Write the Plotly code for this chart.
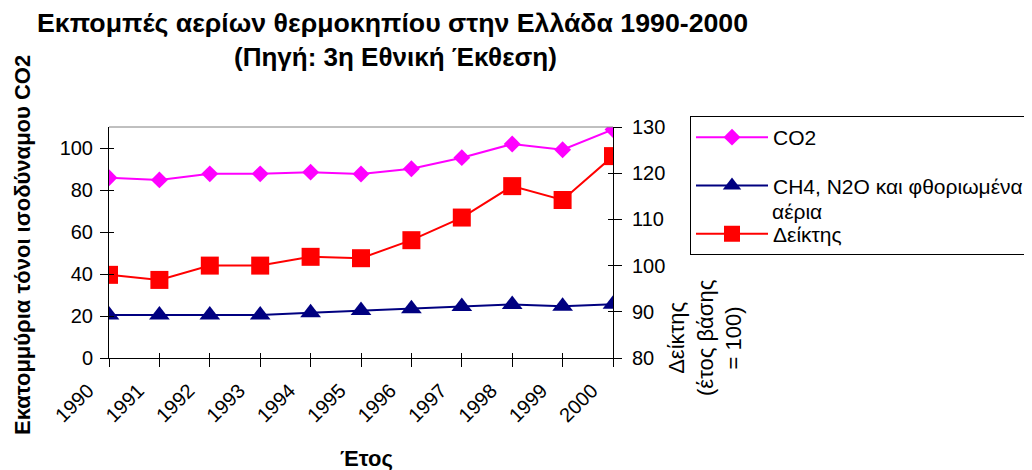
import plotly.graph_objects as go

years = ["1990", "1991", "1992", "1993", "1994", "1995", "1996", "1997", "1998", "1999", "2000"]
co2 = [85.8, 84.8, 87.7, 87.7, 88.5, 87.6, 90.1, 95.4, 101.9, 99.2, 108.8]
ch4_n2o_f = [20.5, 20.5, 20.5, 20.5, 21.6, 22.6, 23.4, 24.5, 25.5, 24.7, 25.6]
index_vals = [98.0, 96.9, 100.0, 100.0, 101.9, 101.6, 105.5, 110.4, 117.2, 114.2, 123.7]

FONT = "Liberation Sans, Arial, sans-serif"

fig = go.Figure()
fig.add_trace(go.Scatter(x=years, y=co2, name="CO2", mode="lines+markers", legendgroup="a",
                         line=dict(color="#FF00FF", width=2),
                         marker=dict(symbol="diamond", size=13, color="#FF00FF")))
fig.add_trace(go.Scatter(x=years, y=ch4_n2o_f, name="CH4, N2O και φθοριωμένα",
                         mode="lines+markers", legendgroup="b",
                         line=dict(color="#000080", width=2),
                         marker=dict(symbol="triangle-up", size=18, color="#000080")))
fig.add_trace(go.Scatter(x=years, y=index_vals, name="Δείκτης", mode="lines+markers",
                         yaxis="y2", legendgroup="c",
                         line=dict(color="#FF0000", width=2),
                         marker=dict(symbol="square", size=18, color="#FF0000")))

axis_common = dict(showgrid=False, zeroline=False, linecolor="black", linewidth=1,
                   tickcolor="black", ticklen=8, tickfont=dict(size=20, color="black", family=FONT))
inner_ticks = dict(ticks="inside", showticklabels=False, showline=False, showgrid=False,
                   zeroline=False, ticklen=5, tickcolor="black")

fig.update_layout(
    width=1032, height=470,
    margin=dict(l=101, r=427, t=119, b=120, autoexpand=False),
    paper_bgcolor="white", plot_bgcolor="white",
    font=dict(family=FONT, color="black"),
    showlegend=True,
    legend=dict(x=(690 - 109) / 504, y=(358 - 116) / 231, xanchor="left", yanchor="top",
                bordercolor="black", borderwidth=1, bgcolor="white",
                traceorder="grouped", tracegroupgap=18,
                font=dict(size=21, family=FONT), itemwidth=72),
    xaxis=dict(type="category", range=[0, 10], ticks="outside", tickangle=-45,
               ticklabelshift=-21, ticklabelstandoff=4, showline=True, **axis_common),
    yaxis=dict(range=[0, 110], dtick=20, ticks="outside", ticklabelstandoff=3,
               showline=True, **axis_common),
    yaxis2=dict(range=[80, 130], dtick=10, ticks="outside", overlaying="y", side="right",
                ticklabelstandoff=6, showline=True, **axis_common),
    xaxis2=dict(range=[0, 10], overlaying="x", tickvals=list(range(11)), **inner_ticks),
    yaxis3=dict(range=[0, 110], dtick=20, overlaying="y", **inner_ticks),
    yaxis4=dict(range=[80, 130], dtick=10, overlaying="y", side="right", **inner_ticks),
)

# top border of the plot area
fig.add_shape(type="line", xref="paper", yref="paper", x0=0, x1=1, y0=1, y1=1,
              line=dict(color="#808080", width=1))

# dummy traces to activate the extra tick axes
fig.add_trace(go.Scatter(x=[0], y=[None], xaxis="x2", yaxis="y3", showlegend=False, hoverinfo="skip"))
fig.add_trace(go.Scatter(x=[0], y=[None], xaxis="x2", yaxis="y4", showlegend=False, hoverinfo="skip"))


def note(text, px, py, size, bold=False, angle=0, anchor="center"):
    # px, py: anchor point of the text in page pixels
    fig.add_annotation(text=f"<b>{text}</b>" if bold else text, textangle=angle,
                       xref="paper", yref="paper", x=0, y=1,
                       xshift=px - 109, yshift=127 - py,
                       xanchor=anchor, yanchor="middle", showarrow=False,
                       font=dict(size=size, family=FONT, color="black"))


note("Εκπομπές αερίων θερμοκηπίου στην Ελλάδα 1990-2000", 392, 23, 26.7, bold=True)
note("(Πηγή: 3η Εθνική Έκθεση)", 395, 57, 26, bold=True)
note("Εκατομμύρια τόνοι ισοδύναμου CO2", 22, 245, 22, bold=True, angle=-90)
note("Έτος", 366, 458, 22, bold=True)
note("Δείκτης<br>(έτος βάσης<br>= 100)", 705, 338, 22, angle=-90)
# second line of the wrapped legend entry
note("αέρια", 770, 211, 21, anchor="left")

fig.write_html("out.html")
